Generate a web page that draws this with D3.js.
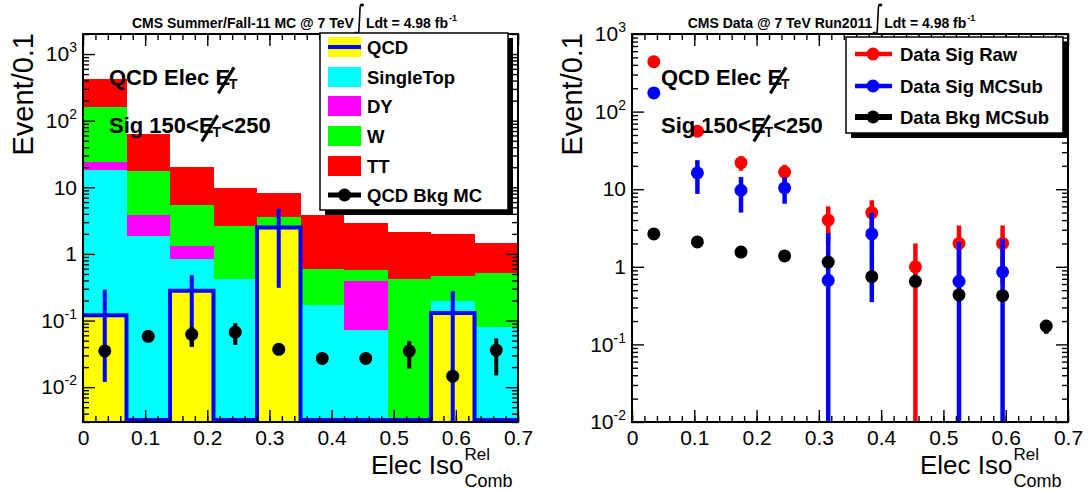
<!DOCTYPE html>
<meta charset="utf-8">
<style>
body { margin: 0; background: #fff; }
svg { font-family: "Liberation Sans", Arial, sans-serif; }
.frame { fill: none; stroke: #000; stroke-width: 2px; }
.tick line { stroke: #000; stroke-width: 1.4px; }
.bold { font-weight: bold; }
</style>
<body>
<script src="https://d3js.org/d3.v7.min.js"></script>
<script>

// binning of the relative combined isolation (width 0.07)
var binEdges   = [0, 0.07, 0.14, 0.21, 0.28, 0.35, 0.42, 0.49, 0.56, 0.63, 0.70];
var binCenters = [0.035, 0.105, 0.175, 0.245, 0.315, 0.385, 0.455, 0.525, 0.595, 0.665];

// left pad: MC stack (events / 0.1)
var qcd       = [0.12, 0, 0.28, 0, 2.5, 0, 0, 0, 0.13, 0];
var singleTop = [17.9, 1.85, 0.55, 0.42, 0, 0.17, 0.071, 0, 0.065, 0.079];
var dy        = [5.8, 1.95, 0.47, 0, 0, 0, 0.32, 0, 0, 0];
var wjets     = [134, 13.7, 4.1, 2.18, 1.06, 0.42, 0.18, 0.42, 0.265, 0.43];
var ttbar     = [262, 45.2, 14.6, 7.1, 4.6, 3.2, 2.33, 1.68, 1.52, 0.94];
var qcdErrLo  = [0.012, 0, 0.04, 0, 0.31, 0, 0, 0, 0, 0];
var qcdErrHi  = [0.29, 0, 0.48, 0, 4.8, 0, 0, 0, 0.275, 0];
var qcdBkgMC   = [0.035, 0.058, 0.062, 0.067, 0.037, 0.027, 0.027, 0.035, 0.0146, 0.036];
var qcdBkgMCLo = [0.033, 0.055, 0.041, 0.043, 0.035, 0.026, 0.026, 0.019, 0.014, 0.015];
var qcdBkgMCHi = [0.037, 0.061, 0.080, 0.091, 0.039, 0.028, 0.028, 0.049, 0.0152, 0.054];

// right pad: data (null = empty bin)
var sigRaw    = [440, 56, 22, 16.6, 4, 5, 1, 2, 2, null];
var sigRawErr = [21, 7.5, 4.7, 4, 2, 2.2, 1, 1.41, 1.41, null];
var sigSub    = [174, 16.2, 9.7, 10.4, 0.67, 2.65, null, 0.65, 0.86, null];
var sigSubErr = [21, 7.5, 4.7, 3.9, 2.06, 2.3, null, 1.44, 1.42, null];
var bkgSub    = [2.65, 2.09, 1.55, 1.38, 1.15, 0.745, 0.65, 0.435, 0.425, 0.172];
var bkgSubErr = [0.05, 0.05, 0.04, 0.04, 0.04, 0.03, 0.03, 0.02, 0.02, 0.035];

// axes
var xTicks      = [0, 0.1, 0.2, 0.3, 0.4, 0.5, 0.6, 0.7];
var xTickLabels = ["0", "0.1", "0.2", "0.3", "0.4", "0.5", "0.6", "0.7"];
var yTicks      = [0.01, 0.1, 1, 10, 100, 1000];
var yTickLabels = [["10", "-2"], ["10", "-1"], ["1", ""], ["10", ""], ["10", "2"], ["10", "3"]];

var stackKeys   = ["qcd", "singleTop", "dy", "wjets", "ttbar"];
var stackNames  = ["QCD", "SingleTop", "DY", "W", "TT"];
var stackColors = ["#ffff00", "#00ffff", "#ff00ff", "#00ff00", "#ff0000"];

var W = 1088, H = 491;
var frameTop = 34, frameBottom = 422;

var svg = d3.select("body").append("svg").attr("width", W).attr("height", H);

function makePanel(id, fx0, fx1, yDomain) {
  var x = d3.scaleLinear().domain([0, 0.7]).range([fx0, fx1]);
  var y = d3.scaleLog().domain(yDomain).range([frameBottom, frameTop]);
  svg.append("clipPath").attr("id", id).append("rect")
      .attr("x", fx0).attr("y", frameTop).attr("width", fx1 - fx0).attr("height", frameBottom - frameTop);
  var g = svg.append("g");
  var plot = g.append("g").attr("clip-path", "url(#" + id + ")");
  var yc = function(v) { return y(Math.max(v, yDomain[0])); };
  return {x: x, y: y, yc: yc, g: g, plot: plot, fx0: fx0, fx1: fx1};
}

function drawAxes(p) {
  var x = p.x, y = p.y, g = p.g;
  var minorX = d3.range(0, 0.7001, 0.02);
  var d = y.domain();
  var minorY = [];
  for (var e = Math.floor(Math.log10(d[0])); e <= Math.ceil(Math.log10(d[1])); e++) {
    for (var k = 2; k <= 9; k++) {
      var v = k * Math.pow(10, e);
      if (v >= d[0] && v <= d[1]) minorY.push(v);
    }
  }
  function clean(sel) { sel.select(".domain").remove(); }

  // bottom / top
  g.append("g").attr("transform", "translate(0," + frameBottom + ")")
      .call(d3.axisBottom(x).tickValues(minorX).tickSize(-6).tickSizeOuter(0).tickFormat(""))
      .call(clean);
  g.append("g").attr("transform", "translate(0," + frameBottom + ")")
      .call(d3.axisBottom(x).tickValues(xTicks).tickSize(-12).tickSizeOuter(0).tickPadding(8)
          .tickFormat(function(t, i) { return xTickLabels[i]; }))
      .call(clean)
      .selectAll("text").style("font-size", "21px").attr("fill", "#000");
  g.append("g").attr("transform", "translate(0," + frameTop + ")")
      .call(d3.axisTop(x).tickValues(minorX).tickSize(-6).tickSizeOuter(0).tickFormat(""))
      .call(clean);
  g.append("g").attr("transform", "translate(0," + frameTop + ")")
      .call(d3.axisTop(x).tickValues(xTicks).tickSize(-12).tickSizeOuter(0).tickFormat(""))
      .call(clean);

  // left / right
  g.append("g").attr("transform", "translate(" + p.fx0 + ",0)")
      .call(d3.axisLeft(y).tickValues(minorY).tickSize(-6).tickSizeOuter(0).tickFormat(""))
      .call(clean);
  var yl = g.append("g").attr("transform", "translate(" + p.fx0 + ",0)")
      .call(d3.axisLeft(y).tickValues(yTicks).tickSize(-12).tickSizeOuter(0).tickPadding(6).tickFormat(""))
      .call(clean);
  yl.selectAll(".tick text").each(function(t, i) {
    var txt = d3.select(this).attr("fill", "#000").style("font-size", "21px");
    txt.append("tspan").text(yTickLabels[i][0]);
    if (yTickLabels[i][1]) {
      txt.append("tspan").attr("dy", "-9").style("font-size", "14px").text(yTickLabels[i][1]);
    }
  });
  g.append("g").attr("transform", "translate(" + p.fx1 + ",0)")
      .call(d3.axisRight(y).tickValues(minorY).tickSize(-6).tickSizeOuter(0).tickFormat(""))
      .call(clean);
  g.append("g").attr("transform", "translate(" + p.fx1 + ",0)")
      .call(d3.axisRight(y).tickValues(yTicks).tickSize(-12).tickSizeOuter(0).tickFormat(""))
      .call(clean);

  g.append("rect").attr("class", "frame")
      .attr("x", p.fx0).attr("y", frameTop).attr("width", p.fx1 - p.fx0).attr("height", frameBottom - frameTop);

  // axis titles
  g.append("text")
      .attr("transform", "translate(" + (p.fx0 - 50) + "," + (frameTop - 1) + ") rotate(-90)")
      .attr("text-anchor", "end").style("font-size", "29px").text("Event/0.1");
  var xt = g.append("text").attr("x", p.fx0 + 288).attr("y", 474).style("font-size", "26px").text("Elec Iso");
  var xe = p.fx0 + 288 + xt.node().getComputedTextLength() + 1;
  g.append("text").attr("x", xe).attr("y", 460).style("font-size", "17px").text("Rel");
  g.append("text").attr("x", xe).attr("y", 487).style("font-size", "18px").text("Comb");
}

// text pieces laid side by side, "E" pieces get the missing-energy slash
function richText(g, x, y, pieces) {
  var cx = x;
  pieces.forEach(function(p) {
    var t = g.append("text").attr("class", "bold").style("white-space", "pre")
        .attr("x", cx).attr("y", y + (p.dy || 0)).style("font-size", p.size + "px").text(p.t);
    var w = t.node().getComputedTextLength();
    if (p.slash) {
      g.append("line").attr("stroke", "#000").attr("stroke-width", 3)
          .attr("x1", cx + w + 4).attr("y1", y - p.size * 0.8)
          .attr("x2", cx + w * 0.2).attr("y2", y + p.size * 0.38);
    }
    cx += w + (p.dx || 0);
  });
}

function metLabels(g, x) {
  richText(g, x, 85, [{t: "QCD Elec ", size: 22}, {t: "E", size: 22, slash: true, dx: -1}, {t: "T", size: 14, dy: 4}]);
  richText(g, x, 133, [{t: "Sig 150<", size: 22}, {t: "E", size: 22, slash: true, dx: -1}, {t: "T", size: 14, dy: 4}, {t: "<250", size: 22}]);
}

function title(text, cx) {
  var g = svg.append("g");
  var t1 = g.append("text").attr("class", "bold").attr("y", 28).style("font-size", "14px").text(text);
  var w1 = t1.node().getComputedTextLength();
  var t2 = g.append("text").attr("class", "bold").attr("y", 28).style("font-size", "14px").text("Ldt = 4.98 fb");
  var w2 = t2.node().getComputedTextLength();
  var t3 = g.append("text").attr("class", "bold").attr("y", 21).style("font-size", "9px").text("-1");
  var w3 = t3.node().getComputedTextLength();
  var total = w1 + 12 + w2 + w3;
  var x0 = cx - total / 2;
  t1.attr("x", x0);
  var ix = x0 + w1 + 5;
  g.append("path").attr("fill", "none").attr("stroke", "#000").attr("stroke-width", 1.6)
      .attr("d", "M" + (ix + 3.5) + ",5 C" + (ix + 1.5) + ",3 " + (ix + 1) + ",7 " + (ix + 1) + ",11 L" + (ix) + ",30 C" + ix + ",34 " + (ix - 1.5) + ",35 " + (ix - 3) + ",33");
  g.append("circle").attr("cx", ix + 3.5).attr("cy", 5).attr("r", 1.6);
  g.append("circle").attr("cx", ix - 3).attr("cy", 33).attr("r", 1.6);
  t2.attr("x", ix + 7);
  t3.attr("x", ix + 7 + w2 + 1);
}

function legendBox(x0, y0, w, h) {
  svg.append("rect").attr("x", x0 + 5).attr("y", y0 + 5).attr("width", w).attr("height", h).attr("fill", "#000");
  svg.append("rect").attr("x", x0).attr("y", y0).attr("width", w).attr("height", h)
      .attr("fill", "#fff").attr("stroke", "#000").attr("stroke-width", 1.5);
}

function errBars(plot, p, vals, lo, hi, color, width) {
  var idx = d3.range(vals.length).filter(function(i) { return vals[i] != null && vals[i] > 0; });
  plot.append("g").selectAll("line").data(idx).join("line")
      .attr("x1", function(i) { return p.x(binCenters[i]); })
      .attr("x2", function(i) { return p.x(binCenters[i]); })
      .attr("y1", function(i) { return p.yc(lo(i)); })
      .attr("y2", function(i) { return p.yc(hi(i)); })
      .attr("stroke", color).attr("stroke-width", width);
}
function dots(plot, p, vals, color) {
  var idx = d3.range(vals.length).filter(function(i) { return vals[i] != null && vals[i] > 0; });
  plot.append("g").selectAll("circle").data(idx).join("circle")
      .attr("cx", function(i) { return p.x(binCenters[i]); })
      .attr("cy", function(i) { return p.y(vals[i]); })
      .attr("r", 6.5).attr("fill", color);
}

// ---------------- left pad: MC ----------------
var L = makePanel("clipL", 83, 518, [0.003, 2000]);

var table = binCenters.map(function(c, i) {
  return {i: i, qcd: qcd[i], singleTop: singleTop[i], dy: dy[i], wjets: wjets[i], ttbar: ttbar[i]};
});
var series = d3.stack().keys(stackKeys)(table);

L.plot.selectAll("g.layer").data(series).join("g").attr("class", "layer")
    .attr("fill", function(d, k) { return stackColors[k]; })
  .selectAll("rect").data(function(d) { return d.filter(function(e) { return e[1] > e[0]; }); }).join("rect")
    .attr("shape-rendering", "crispEdges")
    .attr("x", function(d) { return L.x(binEdges[d.data.i]); })
    .attr("width", function(d) { return L.x(binEdges[d.data.i + 1]) - L.x(binEdges[d.data.i]); })
    .attr("y", function(d) { return L.yc(d[1]); })
    .attr("height", function(d) { return L.yc(d[0]) - L.yc(d[1]); });

// QCD histogram outline + errors
var stepPts = binEdges.map(function(e, i) { return {x: e, v: qcd[Math.min(i, qcd.length - 1)]}; });
L.g.append("path").datum(stepPts)
    .attr("fill", "none").attr("stroke", "#0000ff").attr("stroke-width", 4)
    .attr("d", d3.line().curve(d3.curveStepAfter)
        .x(function(d) { return L.x(d.x); })
        .y(function(d) { return Math.min(L.yc(d.v), frameBottom - 2); }));
errBars(L.plot, L, qcd, function(i) { return qcdErrLo[i]; }, function(i) { return qcdErrHi[i]; }, "#0000ff", 4);

// QCD background MC points
errBars(L.plot, L, qcdBkgMC, function(i) { return qcdBkgMCLo[i]; }, function(i) { return qcdBkgMCHi[i]; }, "#000", 4);
dots(L.plot, L, qcdBkgMC, "#000");

drawAxes(L);
metLabels(svg, 109);
title("CMS Summer/Fall-11 MC @ 7 TeV", 294);

// left legend
legendBox(320, 33, 188, 177);
var lrows = [47, 77, 106, 136, 166, 195];
stackNames.forEach(function(n, k) {
  svg.append("rect").attr("x", 328).attr("y", lrows[k] - 10).attr("width", 33).attr("height", 20).attr("fill", stackColors[k]);
  svg.append("text").attr("class", "bold").attr("x", 367).attr("y", lrows[k] + 6.5).style("font-size", "18.5px").text(n);
});
svg.append("line").attr("x1", 328).attr("x2", 361).attr("y1", lrows[0]).attr("y2", lrows[0]).attr("stroke", "#0000ff").attr("stroke-width", 4);
svg.append("line").attr("x1", 328).attr("x2", 361).attr("y1", lrows[5]).attr("y2", lrows[5]).attr("stroke", "#000").attr("stroke-width", 5);
svg.append("circle").attr("cx", 344.5).attr("cy", lrows[5]).attr("r", 6.5);
svg.append("text").attr("class", "bold").attr("x", 367).attr("y", lrows[5] + 6.5).style("font-size", "18.5px").text("QCD Bkg MC");

// ---------------- right pad: data ----------------
var R = makePanel("clipR", 632, 1068, [0.01, 1000]);

var dataSeries = [
  {name: "Data Sig Raw",   vals: sigRaw, err: sigRawErr, color: "#ff0000"},
  {name: "Data Sig MCSub", vals: sigSub, err: sigSubErr, color: "#0000ff"},
  {name: "Data Bkg MCSub", vals: bkgSub, err: bkgSubErr, color: "#000000"}
];
dataSeries.forEach(function(s) {
  errBars(R.plot, R, s.vals,
      function(i) { return s.vals[i] - s.err[i]; },
      function(i) { return s.vals[i] + s.err[i]; }, s.color, 4.5);
  dots(R.plot, R, s.vals, s.color);
});

drawAxes(R);
metLabels(svg, 661);
title("CMS Data @ 7 TeV Run2011", 831);

legendBox(846, 37, 217, 96);
var rrows = [54, 86, 117];
dataSeries.forEach(function(s, k) {
  svg.append("line").attr("x1", 855).attr("x2", 892).attr("y1", rrows[k]).attr("y2", rrows[k])
      .attr("stroke", s.color).attr("stroke-width", k == 2 ? 6 : 4.5);
  svg.append("circle").attr("cx", 873).attr("cy", rrows[k]).attr("r", 6.5).attr("fill", s.color);
  svg.append("text").attr("class", "bold").attr("x", 900).attr("y", rrows[k] + 6.5).style("font-size", "18.5px").text(s.name);
});

</script>
